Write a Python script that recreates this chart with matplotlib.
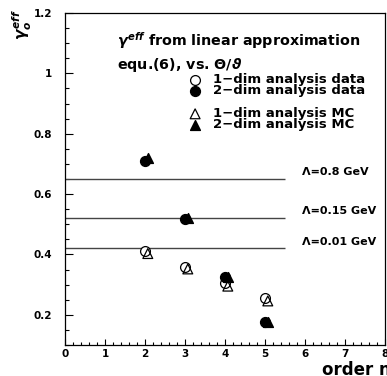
import matplotlib
matplotlib.use('Agg')
import matplotlib.pyplot as plt
from matplotlib.ticker import MultipleLocator

# gamma_eff vs. perturbative order n
order = [2, 3, 4, 5]
order_mc = [2.07, 3.07, 4.07, 5.07]
data_1dim = [0.41, 0.357, 0.305, 0.256]
data_2dim = [0.708, 0.516, 0.325, 0.177]
mc_1dim = [0.403, 0.352, 0.295, 0.246]
mc_2dim = [0.72, 0.52, 0.325, 0.175]

# reference levels for different Lambda
lambda_vals = [0.65, 0.52, 0.42]
lambda_labels = ['\u039b=0.8 GeV', '\u039b=0.15 GeV', '\u039b=0.01 GeV']

plt.rcParams['font.family'] = 'DejaVu Sans'
plt.rcParams['font.weight'] = 'bold'
plt.rcParams['mathtext.fontset'] = 'custom'
plt.rcParams['mathtext.rm'] = 'DejaVu Sans:bold'
plt.rcParams['mathtext.it'] = 'DejaVu Sans:italic:bold'
plt.rcParams['mathtext.bf'] = 'DejaVu Sans:bold'

fig = plt.figure(figsize=(3.87, 3.76), dpi=100)
ax = fig.add_axes([65 / 387, 1 - 345 / 376, 320 / 387, 332 / 376])

ax.hlines(lambda_vals, 0, 5.5, color='#444444', lw=1)
for v, lab in zip(lambda_vals, lambda_labels):
    ax.text(5.92, v + 0.006, lab, fontsize=8, fontweight='bold', va='bottom', ha='left')

ms = 50
h1 = ax.scatter(order, data_1dim, s=ms, marker='o', facecolors='white', edgecolors='black', linewidths=0.9, zorder=3)
h3 = ax.scatter(order_mc, mc_1dim, s=ms, marker='^', facecolors='none', edgecolors='black', linewidths=0.9, zorder=3)
h4 = ax.scatter(order_mc, mc_2dim, s=ms, marker='^', color='black', zorder=4)
h2 = ax.scatter(order, data_2dim, s=ms, marker='o', color='black', zorder=4)

ax.set_xlim(0, 8)
ax.set_ylim(0.1, 1.2)
ax.xaxis.set_major_locator(MultipleLocator(1))
ax.xaxis.set_minor_locator(MultipleLocator(0.2))
ax.yaxis.set_minor_locator(MultipleLocator(0.05))
ax.set_yticks([0.2, 0.4, 0.6, 0.8, 1.0, 1.2])
ax.set_yticklabels(['0.2', '0.4', '0.6', '0.8', '1', '1.2'])
ax.tick_params(axis='y', which='major', direction='in', length=6, width=0.8, pad=9, labelsize=7.5)
ax.tick_params(axis='y', which='minor', direction='in', length=3, width=0.8)
ax.tick_params(axis='x', which='major', direction='in', length=4, width=0.8, pad=3, labelsize=7.5)
ax.tick_params(axis='x', which='minor', direction='in', length=2, width=0.8)
for s in ax.spines.values():
    s.set_linewidth(0.9)

ax.text(0.1625, 0.901, r'$\gamma^{eff}$ from linear approximation', transform=ax.transAxes,
        fontsize=10.3, va='baseline')
ax.text(0.1625, 0.831, r'equ.(6), vs. $\mathrm{\Theta}/\vartheta$', transform=ax.transAxes,
        fontsize=10.3, va='baseline')

leg_kw = dict(loc='upper left', frameon=False, fontsize=9.5, handlelength=1.0,
              handletextpad=0.86, labelspacing=-0.15, borderpad=0, borderaxespad=0)
leg1 = ax.legend([h1, h2], ['1\u2212dim analysis data', '2\u2212dim analysis data'],
                 bbox_to_anchor=(0.386, 0.818), **leg_kw)
ax.add_artist(leg1)
ax.legend([h3, h4], ['1\u2212dim analysis MC', '2\u2212dim analysis MC'],
          bbox_to_anchor=(0.386, 0.716), **leg_kw)

fig.text(0.057, 0.935, r'$\gamma_{o}^{eff}$', rotation=90, fontsize=11, ha='center', va='center')
fig.text(0.832, 0.003, 'order n', fontsize=12, fontweight='bold', ha='left', va='baseline')

fig.savefig('out.png', dpi=100)
